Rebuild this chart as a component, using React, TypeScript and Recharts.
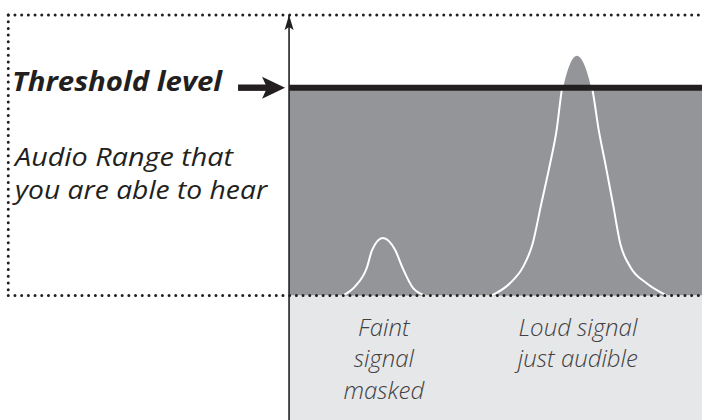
import {
    ComposedChart,
    Area,
    XAxis,
    YAxis,
    ReferenceArea,
    ReferenceLine,
    ReferenceDot,
} from "recharts";

// horizontal position (arbitrary frequency units) and level of each signal curve
const faintX = [13.1, 16.0, 18.9, 20.1, 22.7, 25.7, 27.4, 30.0, 33.0];
const faintLevel = [0, 2.6, 8.2, 13.1, 16.6, 13.1, 8.2, 2.2, 0];

const loudX = [
    49.1, 53.5, 56.7, 59.0, 61.0, 63.2, 64.7, 66.3, 69.7, 73.2, 75.1, 76.6,
    78.5, 80.2, 82.6, 86.6, 91.4,
];
const loudLevel = [
    0, 3.5, 8.3, 15, 26, 38, 47, 61, 69.5, 61, 47, 38, 26, 15, 8.3, 3.5, 0,
];

const thresholdLevel = 60;
const xRange = [-70, 100];
const yRange = [-36, 81];
const frameX = -68;

const faintCaption = ["Faint", "signal", "masked"];
const loudCaption = ["Loud signal", "just audible"];
const thresholdText = "Threshold level";
const rangeText = ["Audio Range that", "you are able to hear"];

const rows = [
    ...faintX.map((x, i) => ({ x, faint: faintLevel[i], loud: null })),
    ...loudX.map((x, i) => ({ x, faint: null, loud: loudLevel[i] })),
];

const ink = "#231f20";
const font = "'Open Sans', 'Noto Sans', sans-serif";

function ThresholdMark({ cx, cy }: any) {
    return (
        <g>
            <text
                x={cx - 277}
                y={cy + 3.5}
                fontFamily={font}
                fontSize={26}
                fontWeight={700}
                fontStyle="italic"
                fill={ink}
                textLength={210}
                lengthAdjust="spacingAndGlyphs"
            >
                {thresholdText}
            </text>
            <rect x={cx - 51} y={cy - 3.2} width={30} height={6.4} fill={ink} />
            <polygon
                points={`${cx - 4},${cy} ${cx - 27},${cy - 11} ${cx - 22},${cy} ${cx - 27},${cy + 11}`}
                fill={ink}
            />
            {rangeText.map((t, i) => (
                <text
                    key={t}
                    x={cx - 274}
                    y={cy + 78.5 + i * 33}
                    fontFamily={font}
                    fontSize={25}
                    fontStyle="italic"
                    fill={ink}
                    textLength={i === 0 ? 218 : 252}
                    lengthAdjust="spacingAndGlyphs"
                >
                    {t}
                </text>
            ))}
        </g>
    );
}

function AxisArrow({ cx, cy }: any) {
    return (
        <polygon
            points={`${cx},${cy} ${cx - 4.5},${cy + 15} ${cx},${cy + 12} ${cx + 4.5},${cy + 15}`}
            fill={ink}
        />
    );
}

function Caption({ cx, cy, lines }: any) {
    return (
        <g>
            {lines.map((t: string, i: number) => (
                <text
                    key={t}
                    x={cx + 1}
                    y={cy + 40.5 + i * 31.5}
                    textAnchor="middle"
                    fontFamily={font}
                    fontSize={24}
                    fontWeight={300}
                    fontStyle="italic"
                    fill="#414042"
                >
                    {t}
                </text>
            ))}
        </g>
    );
}

const dotted = {
    stroke: ink,
    strokeWidth: 3,
    strokeDasharray: "0 6.7",
    strokeLinecap: "round" as const,
};

export default function App() {
    return (
        <div
            style={{
                position: "absolute",
                left: 0,
                top: 0,
                width: 702,
                height: 420,
                background: "#ffffff",
            }}
        >
            <ComposedChart
                width={702}
                height={420}
                data={rows}
                margin={{ top: 15, right: 0, bottom: 0, left: 0 }}
            >
                <XAxis dataKey="x" type="number" domain={xRange} hide />
                <YAxis type="number" domain={yRange} hide />

                <ReferenceArea
                    x1={0}
                    x2={xRange[1]}
                    y1={0}
                    y2={thresholdLevel}
                    fill="#939598"
                    fillOpacity={1}
                    stroke="none"
                />
                <ReferenceArea
                    x1={0}
                    x2={xRange[1]}
                    y1={yRange[0]}
                    y2={0}
                    fill="#e6e7e8"
                    fillOpacity={1}
                    stroke="none"
                />

                <Area
                    dataKey="faint"
                    type="monotone"
                    baseValue={0}
                    fill="#939598"
                    fillOpacity={1}
                    stroke="#ffffff"
                    strokeWidth={2}
                    isAnimationActive={false}
                />
                <Area
                    dataKey="loud"
                    type="monotone"
                    baseValue={0}
                    fill="#939598"
                    fillOpacity={1}
                    stroke="#ffffff"
                    strokeWidth={2}
                    isAnimationActive={false}
                />

                <ReferenceLine
                    segment={[
                        { x: 0, y: thresholdLevel },
                        { x: xRange[1], y: thresholdLevel },
                    ]}
                    stroke={ink}
                    strokeWidth={6}
                />
                <ReferenceLine
                    segment={[
                        { x: frameX, y: yRange[1] },
                        { x: xRange[1], y: yRange[1] },
                    ]}
                    {...dotted}
                />
                <ReferenceLine
                    segment={[
                        { x: frameX, y: yRange[1] },
                        { x: frameX, y: 0 },
                    ]}
                    {...dotted}
                />
                <ReferenceLine
                    segment={[
                        { x: frameX, y: 0 },
                        { x: xRange[1], y: 0 },
                    ]}
                    {...dotted}
                />
                <ReferenceLine x={0} stroke={ink} strokeWidth={1.6} />

                <ReferenceDot
                    x={0}
                    y={yRange[1]}
                    shape={(p: any) => <AxisArrow {...p} />}
                />
                <ReferenceDot
                    x={0}
                    y={thresholdLevel}
                    shape={(p: any) => <ThresholdMark {...p} />}
                />
                <ReferenceDot
                    x={22.7}
                    y={0}
                    shape={(p: any) => <Caption {...p} lines={faintCaption} />}
                />
                <ReferenceDot
                    x={69.7}
                    y={0}
                    shape={(p: any) => <Caption {...p} lines={loudCaption} />}
                />
            </ComposedChart>
        </div>
    );
}
